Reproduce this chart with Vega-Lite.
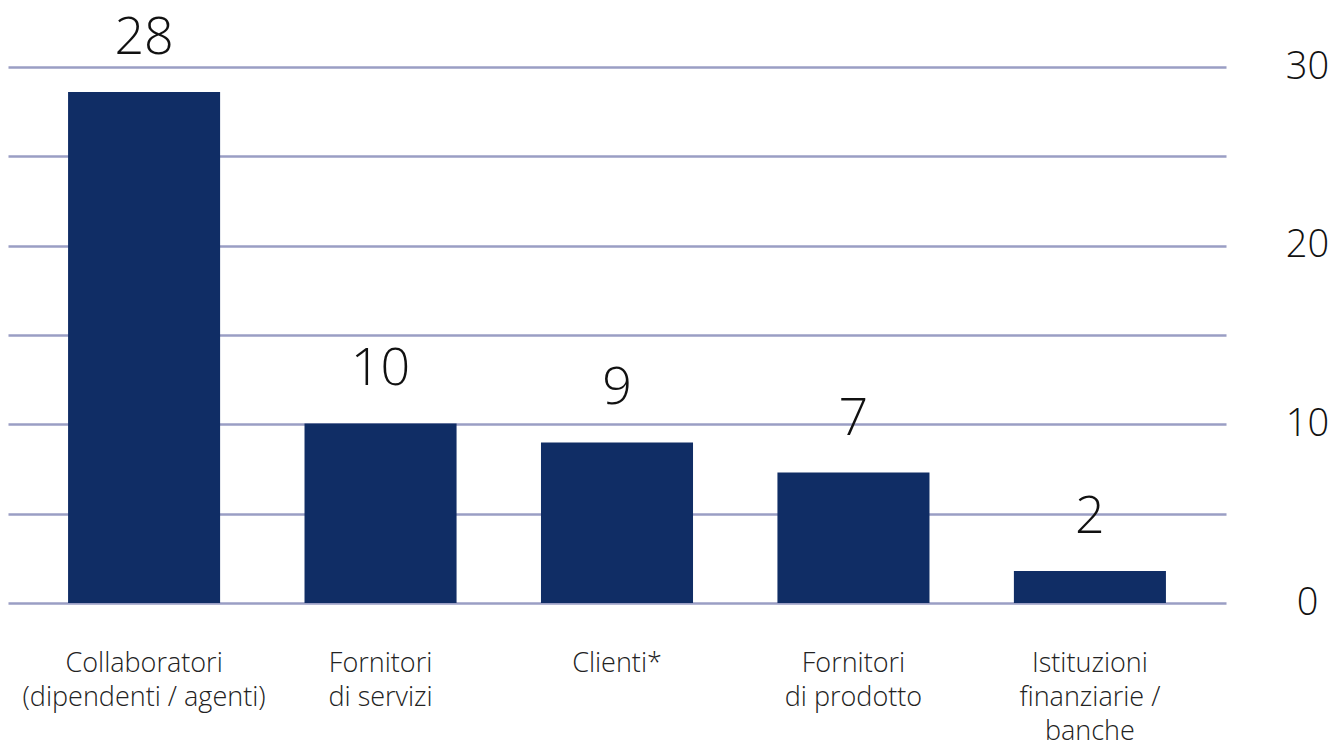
{
  "$schema": "https://vega.github.io/schema/vega-lite/v6.json",
  "width": 1218,
  "height": 536,
  "autosize": "none",
  "padding": {"left": 8, "top": 67, "right": 107, "bottom": 141},
  "background": "white",
  "config": {"view": {"stroke": null}, "font": "Open Sans"},
  "data": {
    "values": [
      {"categoria": "Collaboratori|(dipendenti / agenti)", "valore": 28.6, "etichetta": "28"},
      {"categoria": "Fornitori|di servizi", "valore": 10.05, "etichetta": "10"},
      {"categoria": "Clienti*", "valore": 8.99, "etichetta": "9"},
      {"categoria": "Fornitori|di prodotto", "valore": 7.3, "etichetta": "7"},
      {"categoria": "Istituzioni|finanziarie /|banche", "valore": 1.79, "etichetta": "2"}
    ]
  },
  "encoding": {
    "x": {
      "field": "categoria",
      "type": "nominal",
      "sort": null,
      "scale": {"paddingInner": 0.357, "paddingOuter": 0.254},
      "axis": {
        "title": null,
        "labelAngle": 0,
        "labelExpr": "split(datum.value, '|')",
        "labelFont": "Open Sans",
        "labelFontWeight": 300,
        "labelFontSize": 27,
        "labelLineHeight": 34,
        "labelColor": "#222222",
        "labelPadding": 68,
        "labelBaseline": "alphabetic",
        "labelLimit": 0,
        "labelOverlap": false,
        "ticks": false,
        "domain": false,
        "grid": false
      }
    },
    "y": {
      "field": "valore",
      "type": "quantitative",
      "scale": {"domain": [0, 30], "nice": false},
      "axis": {
        "title": null,
        "orient": "right",
        "values": [0, 5, 10, 15, 20, 25, 30],
        "labelExpr": "datum.value % 10 == 0 ? datum.label : ''",
        "grid": true,
        "gridColor": "#9a9ec4",
        "gridWidth": 2.5,
        "ticks": false,
        "domain": false,
        "labelFont": "Open Sans",
        "labelFontWeight": 300,
        "labelFontSize": 38,
        "labelColor": "#111111",
        "labelAlign": "center",
        "labelPadding": 81
      }
    }
  },
  "layer": [
    {"mark": {"type": "bar", "color": "#102d65"}},
    {
      "mark": {"type": "text", "baseline": "alphabetic", "dy": -38, "fontSize": 52, "fontWeight": 300, "font": "Open Sans", "color": "#111111"},
      "encoding": {"text": {"field": "etichetta"}}
    }
  ]
}
